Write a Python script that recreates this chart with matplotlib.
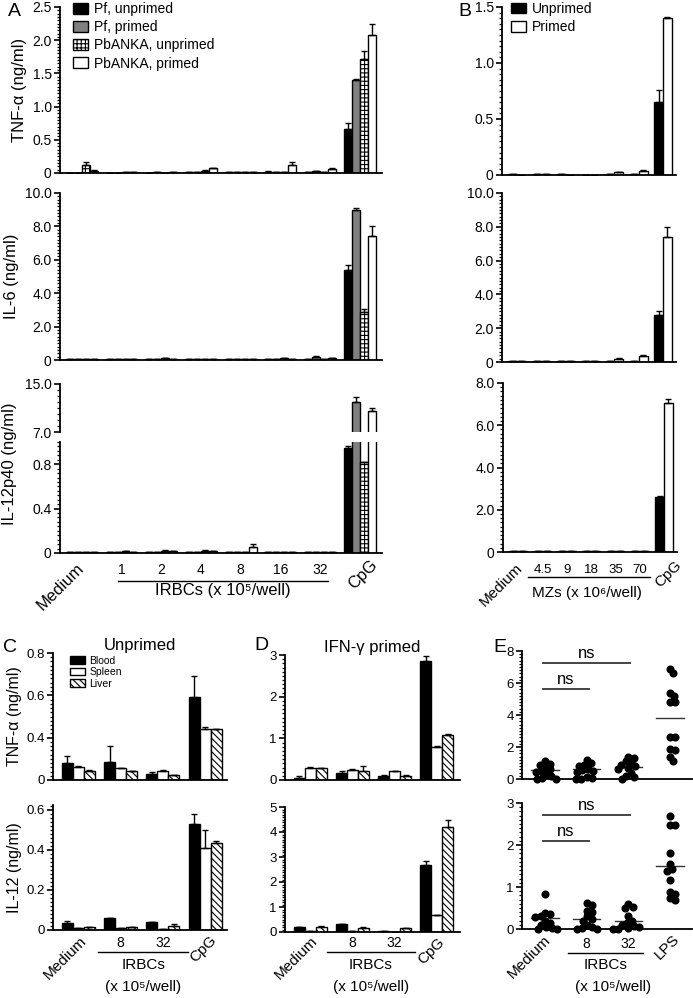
import numpy as np
import matplotlib
matplotlib.use("Agg")
import matplotlib.pyplot as plt
from matplotlib.patches import Patch
from matplotlib.ticker import MultipleLocator, FixedLocator, FuncFormatter
from matplotlib.transforms import offset_copy

plt.rcParams["font.family"] = ["Liberation Sans", "DejaVu Sans"]
plt.rcParams["hatch.linewidth"] = 0.8

# ---- panel A: spleen cells + IRBCs (Pf / PbANKA) ----
a_groups = ["Medium", "1", "2", "4", "8", "16", "32", "CpG"]
a_series = ["Pf, unprimed", "Pf, primed", "PbANKA, unprimed", "PbANKA, primed"]

a_tnf = [
    [0.005, 0.005, 0.005, 0.01, 0.01, 0.02, 0.01, 0.67],
    [0.005, 0.005, 0.01, 0.01, 0.01, 0.02, 0.03, 1.40],
    [0.12, 0.01, 0.005, 0.03, 0.02, 0.01, 0.02, 1.72],
    [0.03, 0.01, 0.01, 0.07, 0.01, 0.12, 0.06, 2.08],
]
a_tnf_err = [
    [0, 0, 0, 0, 0, 0.01, 0, 0.09],
    [0, 0, 0, 0, 0, 0, 0, 0.01],
    [0.05, 0, 0, 0.01, 0, 0, 0, 0.12],
    [0.01, 0, 0, 0.01, 0, 0.04, 0.01, 0.17],
]
a_il6 = [
    [0.05, 0.05, 0.05, 0.05, 0.05, 0.05, 0.05, 5.4],
    [0.05, 0.08, 0.05, 0.05, 0.05, 0.08, 0.2, 9.0],
    [0.05, 0.05, 0.1, 0.05, 0.05, 0.1, 0.05, 2.9],
    [0.05, 0.05, 0.05, 0.05, 0.05, 0.05, 0.1, 7.4],
]
a_il6_err = [
    [0, 0, 0, 0, 0, 0, 0, 0.3],
    [0, 0, 0, 0, 0, 0, 0.02, 0.1],
    [0, 0, 0, 0, 0, 0, 0, 0.15],
    [0, 0, 0, 0, 0, 0, 0, 0.6],
]
a_il12 = [
    [0.01, 0.01, 0.01, 0.01, 0.01, 0.01, 0.01, 0.95],
    [0.01, 0.01, 0.01, 0.01, 0.01, 0.01, 0.01, 12.0],
    [0.01, 0.015, 0.02, 0.02, 0.01, 0.01, 0.01, 0.82],
    [0.01, 0.01, 0.02, 0.02, 0.05, 0.01, 0.01, 10.5],
]
a_il12_err = [
    [0, 0, 0, 0, 0, 0, 0, 0.01],
    [0, 0, 0, 0, 0, 0, 0, 0.8],
    [0, 0, 0.005, 0.005, 0, 0, 0, 0],
    [0, 0, 0, 0, 0.03, 0, 0, 0.5],
]

# ---- panel B: merozoites ----
b_groups = ["Medium", "4.5", "9", "18", "35", "70", "CpG"]
b_series = ["Unprimed", "Primed"]
b_tnf = [
    [0.005, 0.005, 0.005, 0.003, 0.01, 0.005, 0.65],
    [0.003, 0.005, 0.002, 0.003, 0.025, 0.04, 1.40],
]
b_tnf_err = [[0, 0, 0, 0, 0, 0, 0.11], [0, 0, 0, 0, 0.005, 0.005, 0.01]]
b_il6 = [
    [0.05, 0.05, 0.03, 0.05, 0.05, 0.05, 2.8],
    [0.05, 0.08, 0.05, 0.08, 0.2, 0.35, 7.4],
]
b_il6_err = [[0, 0, 0, 0, 0, 0, 0.2], [0, 0, 0, 0, 0.03, 0.05, 0.6]]
b_il12 = [
    [0.03, 0.03, 0.05, 0.05, 0.05, 0.05, 2.6],
    [0.03, 0.05, 0.05, 0.05, 0.05, 0.05, 7.05],
]
b_il12_err = [[0, 0, 0, 0, 0, 0, 0.05], [0, 0, 0, 0, 0, 0, 0.2]]

# ---- panels C / D: blood, spleen, liver DCs ----
cd_groups = ["Medium", "8", "32", "CpG"]
cd_series = ["Blood", "Spleen", "Liver"]
c_tnf = [[0.16, 0.17, 0.055, 0.59], [0.12, 0.11, 0.085, 0.44], [0.085, 0.085, 0.045, 0.44]]
c_tnf_err = [[0.07, 0.15, 0.02, 0.1], [0.01, 0.005, 0.005, 0.01], [0.005, 0, 0.005, 0]]
c_il12 = [[0.037, 0.058, 0.038, 0.53], [0.008, 0.008, 0.007, 0.41], [0.013, 0.013, 0.022, 0.433]]
c_il12_err = [[0.01, 0.003, 0.002, 0.05], [0, 0, 0, 0.09], [0.003, 0.003, 0.01, 0.012]]
d_tnf = [[0.04, 0.18, 0.1, 2.85], [0.29, 0.25, 0.21, 0.79], [0.28, 0.21, 0.1, 1.08]]
d_tnf_err = [[0.06, 0.04, 0.03, 0.12], [0.02, 0.02, 0.01, 0.02], [0.01, 0.12, 0.03, 0.02]]
d_il12 = [[0.2, 0.32, 0.03, 2.7], [0.05, 0.03, 0.02, 0.7], [0.2, 0.18, 0.15, 4.2]]
d_il12_err = [[0.02, 0.02, 0, 0.15], [0, 0, 0, 0], [0.03, 0.02, 0.02, 0.3]]

# ---- panel E: human PBMC, individual donors ----
e_groups = ["Medium", "8", "32", "LPS"]
e_tnf = [
    [1.1, 0.95, 0.9, 0.75, 0.6, 0.5, 0.45, 0.3, 0.2, 0.05, 0.0, 0.0],
    [1.2, 1.0, 0.9, 0.8, 0.65, 0.55, 0.5, 0.45, 0.1, 0.05, 0.0, 0.0],
    [1.4, 1.3, 1.1, 1.0, 0.9, 0.8, 0.7, 0.6, 0.4, 0.2, 0.1, 0.0],
    [6.9, 6.6, 5.4, 5.2, 4.8, 4.8, 2.65, 2.6, 1.9, 1.8, 1.4, 1.1],
]
e_tnf_mean = [0.55, 0.6, 0.72, 3.8]
e_il12 = [
    [0.84, 0.38, 0.35, 0.3, 0.28, 0.2, 0.15, 0.1, 0.05, 0.02, 0.0, 0.0],
    [0.62, 0.57, 0.44, 0.41, 0.3, 0.25, 0.2, 0.1, 0.05, 0.02, 0.0, 0.0],
    [0.59, 0.53, 0.49, 0.3, 0.2, 0.15, 0.1, 0.08, 0.05, 0.02, 0.0, 0.0],
    [2.68, 2.48, 2.48, 1.82, 1.55, 1.43, 1.39, 1.16, 0.88, 0.84, 0.73, 0.69],
]
e_il12_mean = [0.26, 0.25, 0.2, 1.5]

W, H = 693, 998
fig = plt.figure(figsize=(W / 100, H / 100), dpi=100)


def add_ax(x0, y0, x1, y1):
    # axes box given in pixel coordinates of the reference picture
    return fig.add_axes([x0 / W, 1 - y1 / H, (x1 - x0) / W, (y1 - y0) / H])


def zero_fmt(fmt):
    return FuncFormatter(lambda v, p: "0" if abs(v) < 1e-9 else fmt % v)


def style(ax, ylim, major, minor, fmt="%.1f", fs=10, bottom=True):
    ax.set_ylim(*ylim)
    ax.spines["top"].set_visible(False)
    ax.spines["right"].set_visible(False)
    ax.spines["bottom"].set_visible(bottom)
    ax.spines["left"].set_linewidth(1.3)
    ax.spines["bottom"].set_linewidth(1.3)
    ax.set_xticks([])
    if major is not None:
        ax.yaxis.set_major_locator(MultipleLocator(major))
        ax.yaxis.set_minor_locator(MultipleLocator(minor))
    ax.yaxis.set_major_formatter(zero_fmt(fmt))
    ax.tick_params(axis="y", which="major", length=4, width=1.2, labelsize=fs, pad=2)
    ax.tick_params(axis="y", which="minor", length=2.5, width=0.9)
    ax.patch.set_alpha(0)


def bars(ax, series, errs, styles, width):
    n = len(series)
    x = np.arange(len(series[0]))
    for i, (vals, err, st) in enumerate(zip(series, errs, styles)):
        off = (i - (n - 1) / 2) * width
        ax.bar(x + off, vals, width, edgecolor="black", linewidth=1, zorder=2, **st)
        ax.errorbar(x + off, vals, yerr=[np.zeros(len(vals)), err], fmt="none",
                    ecolor="black", elinewidth=1, capsize=2, capthick=1, zorder=3)


def cat_labels(ax, groups, num_dy, rot_cfg, fs_num=10, fs_rot=11):
    # group names under the axis, placed at the categories' data x positions
    tr = ax.get_xaxis_transform()
    (m_dx, m_dy), (c_dx, c_dy) = rot_cfg
    for i, g in enumerate(groups):
        if i == 0:
            ax.annotate(g, (i, 0), xycoords=tr, xytext=(m_dx, m_dy), textcoords="offset pixels",
                        rotation=45, ha="right", va="center", rotation_mode="anchor", fontsize=fs_rot)
        elif i == len(groups) - 1:
            ax.annotate(g, (i, 0), xycoords=tr, xytext=(c_dx, c_dy), textcoords="offset pixels",
                        rotation=45, ha="left", va="center", rotation_mode="anchor", fontsize=fs_rot)
        else:
            ax.annotate(g, (i, 0), xycoords=tr, xytext=(0, num_dy), textcoords="offset pixels",
                        ha="center", va="center", fontsize=fs_num)


def group_line(ax, x0, x1, dy, text_lines, fs=11):
    tr = offset_copy(ax.get_xaxis_transform(), fig=fig, y=dy, units="dots")
    ax.plot([x0, x1], [0, 0], color="black", lw=1, transform=tr, clip_on=False)
    xm = (x0 + x1) / 2
    for dx, ty, t in text_lines:
        ax.annotate(t, (xm, 0), xycoords=ax.get_xaxis_transform(), xytext=(dx, ty),
                    textcoords="offset pixels", ha="center", va="center", fontsize=fs)


four = [dict(facecolor="black"), dict(facecolor="#808080"),
        dict(facecolor="white", hatch="++++"), dict(facecolor="white")]
two = [dict(facecolor="black"), dict(facecolor="white")]
three = [dict(facecolor="black"), dict(facecolor="white"),
         dict(facecolor="white", hatch="\\\\\\\\\\")]

# ---------------- A ----------------
a_xlim = (-0.55, 7.56)
ax = add_ax(60, 7, 382, 173)
bars(ax, a_tnf, a_tnf_err, four, 0.2)
ax.set_xlim(*a_xlim)
style(ax, (0, 2.5), 0.5, 0.05)
ax.set_ylabel("TNF-α (ng/ml)", fontsize=12, labelpad=4)
ax.legend([Patch(edgecolor="black", **s) for s in four], a_series, loc="upper left",
          bbox_to_anchor=(0.04, 1.03), frameon=False, fontsize=10, handlelength=1.1,
          handleheight=0.8, handletextpad=0.4, labelspacing=0.3, borderpad=0, borderaxespad=0)
fig.text(8 / W, 1 - 12 / H, "A", fontsize=14, va="center", ha="left")

ax = add_ax(60, 193, 382, 360)
bars(ax, a_il6, a_il6_err, four, 0.2)
ax.set_xlim(*a_xlim)
style(ax, (0, 10), 2, 0.2)
ax.set_ylabel("IL-6 (ng/ml)", fontsize=12, labelpad=4)

ax_up = add_ax(60, 384, 382, 432)
bars(ax_up, a_il12, a_il12_err, four, 0.2)
ax_up.set_xlim(*a_xlim)
style(ax_up, (7, 15), 8, 1, bottom=False)
ax_up.yaxis.set_major_locator(FixedLocator([7, 15]))
ax = add_ax(60, 442, 382, 553)
bars(ax, a_il12, a_il12_err, four, 0.2)
ax.set_xlim(*a_xlim)
style(ax, (0, 1.0), 0.4, 0.04)
ax.yaxis.set_major_locator(FixedLocator([0, 0.4, 0.8]))
ax.set_ylabel("IL-12p40 (ng/ml)", fontsize=12, labelpad=4)
ax.yaxis.set_label_coords(-0.135, 0.8)
cat_labels(ax, a_groups, -17, ((0, -13), (-9, -34)), fs_num=10, fs_rot=12)
group_line(ax, 0.91, 6.2, -28, [(0, -38, "IRBCs (x 10⁵/well)")], fs=12)

# ---------------- B ----------------
b_xlim = (-0.62, 6.53)
ax = add_ax(502, 7, 676, 175)
bars(ax, b_tnf, b_tnf_err, two, 0.36)
ax.set_xlim(*b_xlim)
style(ax, (0, 1.5), 0.5, 0.05)
ax.legend([Patch(edgecolor="black", **s) for s in two], b_series, loc="upper left",
          bbox_to_anchor=(0.05, 1.03), frameon=False, fontsize=10, handlelength=1.1,
          handleheight=0.8, handletextpad=0.4, labelspacing=0.3, borderpad=0, borderaxespad=0)
fig.text(458 / W, 1 - 12 / H, "B", fontsize=14, va="center", ha="left")

ax = add_ax(502, 193, 676, 362)
bars(ax, b_il6, b_il6_err, two, 0.36)
ax.set_xlim(*b_xlim)
style(ax, (0, 10), 2, 0.2)

ax = add_ax(503, 383, 677, 552)
bars(ax, b_il12, b_il12_err, two, 0.36)
ax.set_xlim(*b_xlim)
style(ax, (0, 8), 2, 0.2)
cat_labels(ax, b_groups, -18, ((2, -14), (-7, -33)), fs_num=9.5, fs_rot=11)
group_line(ax, 0.41, 5.43, -25, [(-2, -41, "MZs (x 10⁶/well)")], fs=11)

# ---------------- C ----------------
cd_w = 0.26


def c_fwd(y):
    y = np.asarray(y, dtype=float)
    return np.where(y <= 0.4, y * 0.5, y - 0.2)


def c_inv(u):
    u = np.asarray(u, dtype=float)
    return np.where(u <= 0.2, u * 2, u + 0.2)


ax = add_ax(53, 653, 227, 780)
ax.set_yscale("function", functions=(c_fwd, c_inv))
bars(ax, c_tnf, c_tnf_err, three, cd_w)
ax.set_xlim(-0.6, 3.52)
style(ax, (0, 0.8), None, None, fs=9.5)
ax.yaxis.set_major_locator(FixedLocator([0, 0.4, 0.6, 0.8]))
ax.yaxis.set_minor_locator(FixedLocator(list(np.arange(0, 0.4, 0.04)) + list(np.arange(0.4, 0.8, 0.02))))
ax.set_ylabel("TNF-α (ng/ml)", fontsize=11.5, labelpad=3)
ax.legend([Patch(edgecolor="black", **s) for s in three], cd_series, loc="upper left",
          bbox_to_anchor=(0.1, 0.98), frameon=False, fontsize=7.5, handlelength=1.4,
          handleheight=0.7, handletextpad=0.4, labelspacing=0.15, borderpad=0, borderaxespad=0)
ax.set_title("Unprimed", fontsize=12, pad=-4)
fig.text(3 / W, 1 - 648 / H, "C", fontsize=14, va="center", ha="left")

ax = add_ax(53, 805, 227, 930)
bars(ax, c_il12, c_il12_err, three, cd_w)
ax.set_xlim(-0.6, 3.52)
style(ax, (0, 0.625), 0.2, 0.02, fs=9.5)
ax.set_ylabel("IL-12 (ng/ml)", fontsize=11.5, labelpad=3)
cat_labels(ax, cd_groups, -13, ((6, -9), (-13, -30)), fs_num=10, fs_rot=11)
group_line(ax, 0.47, 2.6, -22, [(0, -35, "IRBCs"), (0, -57, "(x 10⁵/well)")], fs=11)

# ---------------- D ----------------
ax = add_ax(285, 655, 460, 780)
bars(ax, d_tnf, d_tnf_err, three, cd_w)
ax.set_xlim(-0.6, 3.55)
style(ax, (0, 3), 1, 0.1, fmt="%d", fs=9.5)
ax.set_title("IFN-γ primed", fontsize=12, pad=-4)
fig.text(254 / W, 1 - 645 / H, "D", fontsize=14, va="center", ha="left")

ax = add_ax(285, 807, 460, 932)
bars(ax, d_il12, d_il12_err, three, cd_w)
ax.set_xlim(-0.6, 3.55)
style(ax, (0, 5), 1, 0.1, fmt="%d", fs=9.5)
cat_labels(ax, cd_groups, -11, ((5, -7), (-17, -30)), fs_num=10, fs_rot=11)
group_line(ax, 0.4, 2.48, -20, [(0, -33, "IRBCs"), (0, -55, "(x 10⁵/well)")], fs=11)

# ---------------- E ----------------


def swarm(ax, x0, vals, d_px):
    # simple beeswarm: place each value at the smallest horizontal shift that avoids overlap
    tr = ax.transData
    xs_px = tr.transform((x0, 0))[0]
    px_per_x = tr.transform((x0 + 1, 0))[0] - xs_px
    placed = []
    offs = []
    for v in vals:
        py = tr.transform((x0, v))[1]
        cands = [0.0]
        for qx, qy in placed:
            dy = abs(qy - py)
            if dy < d_px:
                h = np.sqrt(d_px ** 2 - dy ** 2)
                cands += [qx + h, qx - h]
        cands.sort(key=abs)
        for c in cands:
            if all((c - qx) ** 2 + (py - qy) ** 2 >= d_px ** 2 - 1e-6 for qx, qy in placed):
                break
        placed.append((c, py))
        offs.append(c / px_per_x)
    return np.array(offs)


def dots(ax, data, means):
    for i, vals in enumerate(data):
        off = swarm(ax, i, vals, 5.5)
        ax.scatter(i + off, vals, s=34, color="black", zorder=3, clip_on=False, linewidths=0)
        ax.plot([i - 0.33, i + 0.33], [means[i], means[i]], color="#333333", lw=1, zorder=2)


def ns(ax, x0, x1, y, ty):
    ax.plot([x0, x1], [y, y], color="#444444", lw=1.4)
    ax.text((x0 + x1) / 2, ty, "ns", ha="center", va="center", fontsize=12)


ax = add_ax(522, 651, 692, 779)
ax.set_xlim(-0.55, 3.53)
style(ax, (0, 8), 2, 0.2, fmt="%d", fs=9.5)
dots(ax, e_tnf, e_tnf_mean)
ns(ax, -0.05, 2.05, 7.25, 7.85)
ns(ax, -0.05, 1.05, 5.6, 6.2)
fig.text(493 / W, 1 - 648 / H, "E", fontsize=14, va="center", ha="left")

ax = add_ax(522, 803, 692, 929)
ax.set_xlim(-0.55, 3.53)
style(ax, (0, 3), 1, 0.1, fmt="%d", fs=9.5)
dots(ax, e_il12, e_il12_mean)
ns(ax, -0.05, 2.05, 2.71, 2.93)
ns(ax, -0.05, 1.05, 2.1, 2.32)
cat_labels(ax, e_groups, -15, ((3, -9), (-13, -28)), fs_num=10, fs_rot=11)
group_line(ax, 0.55, 2.35, -24, [(0, -36, "IRBCs"), (8, -58, "(x 10⁵/well)")], fs=11)

fig.savefig("out.png", dpi=100)
